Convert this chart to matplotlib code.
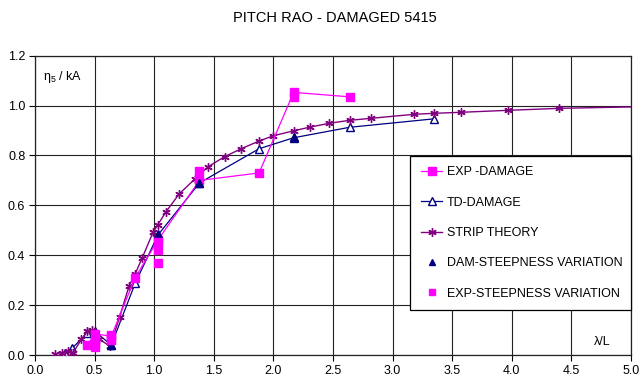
import matplotlib
matplotlib.use("Agg")
import matplotlib.pyplot as plt
from matplotlib.ticker import FormatStrFormatter

plt.rcParams['font.family'] = ['Liberation Sans', 'DejaVu Sans']
plt.rcParams['mathtext.fontset'] = 'custom'
plt.rcParams['mathtext.rm'] = 'Liberation Sans'
plt.rcParams['mathtext.it'] = 'Liberation Sans'

# EXP - DAMAGE
exp_x = [0.44, 0.50, 0.64, 0.84, 1.03, 1.38, 1.88, 2.17, 2.64]
exp_y = [0.040, 0.085, 0.075, 0.310, 0.460, 0.700, 0.730, 1.053, 1.035]

# TD - DAMAGE
td_x = [0.25, 0.31, 0.44, 0.50, 0.64, 0.84, 1.03, 1.38, 1.88, 2.17, 2.64, 3.35]
td_y = [0.008, 0.027, 0.087, 0.095, 0.040, 0.287, 0.480, 0.690, 0.827, 0.871, 0.913, 0.947]

# STRIP THEORY
st_x = [0.17, 0.23, 0.28, 0.32, 0.39, 0.44, 0.48, 0.54, 0.63, 0.71, 0.79, 0.84,
        0.90, 0.99, 1.03, 1.10, 1.21, 1.34, 1.45, 1.59, 1.73, 1.88, 2.00, 2.17,
        2.31, 2.47, 2.64, 2.82, 3.18, 3.35, 3.57, 3.97, 4.40, 5.05]
st_y = [0.004, 0.010, 0.018, 0.010, 0.063, 0.096, 0.101, 0.063, 0.035, 0.153,
        0.278, 0.325, 0.390, 0.492, 0.522, 0.575, 0.646, 0.705, 0.754, 0.795,
        0.827, 0.858, 0.879, 0.899, 0.914, 0.929, 0.941, 0.949, 0.965, 0.969,
        0.973, 0.981, 0.989, 0.995]

# DAM - STEEPNESS VARIATION
dam_x = [0.64, 1.03, 1.38, 2.17]
dam_y = [0.040, 0.485, 0.690, 0.875]

# EXP - STEEPNESS VARIATION
exps_x = [0.50, 0.50, 0.64, 0.64, 1.03, 1.03, 1.03, 1.38, 2.17]
exps_y = [0.050, 0.034, 0.060, 0.080, 0.452, 0.421, 0.368, 0.739, 1.036]

x_ticks = [0.0, 0.5, 1.0, 1.5, 2.0, 2.5, 3.0, 3.5, 4.0, 4.5, 5.0]
y_ticks = [0.0, 0.2, 0.4, 0.6, 0.8, 1.0, 1.2]

fig = plt.figure(figsize=(6.43, 3.85), dpi=100)
ax = fig.add_axes([35/643, 1-355/385, 596/643, 299.3/385])

MAG = '#FF00FF'
NAVY = '#000080'
PURP = '#800080'

ax.plot(exp_x, exp_y, color=MAG, lw=0.9, marker='s', ms=5.5, mec=MAG, mfc=MAG,
        label='EXP -DAMAGE', zorder=4)
ax.plot(td_x, td_y, color=NAVY, lw=0.9, marker='^', ms=6, mec=NAVY, mfc='white',
        mew=1.0, label='TD-DAMAGE', zorder=3)
ax.plot(st_x, st_y, color=PURP, lw=1.0, marker=(6, 2, 0), ms=6, mec=PURP, mew=1.0,
        markevery=list(range(len(st_x) - 1)), label='STRIP THEORY', zorder=3)
ax.plot(dam_x, dam_y, ls='none', marker='^', ms=6, color=NAVY,
        label='DAM-STEEPNESS VARIATION', zorder=5)
ax.plot(exps_x, exps_y, ls='none', marker='s', ms=5.5, color=MAG,
        label='EXP-STEEPNESS VARIATION', zorder=6)

ax.set_xlim(0, 5.0)
ax.set_ylim(0, 1.2)
ax.set_xticks(x_ticks)
ax.set_yticks(y_ticks)
ax.xaxis.set_major_formatter(FormatStrFormatter('%.1f'))
ax.yaxis.set_major_formatter(FormatStrFormatter('%.1f'))
ax.tick_params(direction='out', length=4, width=0.8, labelsize=9, color='black', pad=3)
ax.grid(True, color='#222222', lw=0.8)
ax.set_axisbelow(True)
for s in ax.spines.values():
    s.set_color('#222222')
    s.set_linewidth(0.9)

ax.text(0.013, 0.93, r'$\mathregular{\eta_5}$ / kA', transform=ax.transAxes,
        fontsize=9, va='center', ha='left')
ax.text(0.938, 0.044, 'λ/L', transform=ax.transAxes, fontsize=9,
        va='center', ha='left')

fig.text(0.521, 0.953, 'PITCH RAO - DAMAGED 5415', ha='center', va='center', fontsize=10.5)

leg = ax.legend(loc='upper left', bbox_to_anchor=(0.630, 0.160, 0.370, 0.506),
                mode='expand', fontsize=9, frameon=True, fancybox=False,
                edgecolor='black', framealpha=1, borderaxespad=0, borderpad=0.85,
                labelspacing=1.47, handlelength=1.7, handletextpad=0.35, numpoints=1)
leg.get_frame().set_linewidth(0.9)
leg.set_zorder(10)
hs = leg.legend_handles
hs[3].set_markersize(5)
hs[4].set_markersize(4.5)

fig.savefig('out.png', dpi=100)
